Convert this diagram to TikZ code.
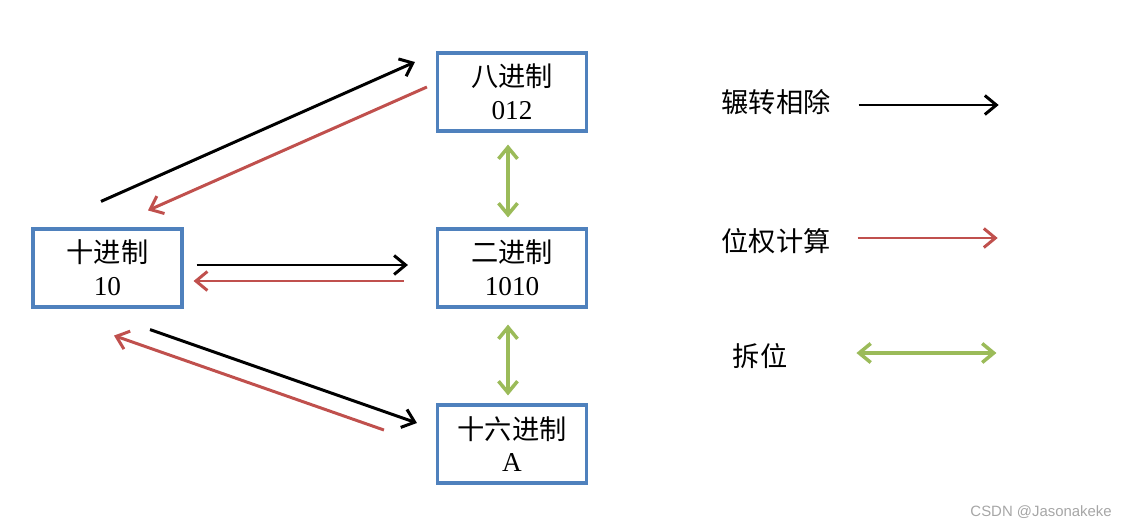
\documentclass[tikz,border=0pt]{standalone}
\usepackage{fontspec}
\usepackage{xcolor}
\usetikzlibrary{arrows.meta}
\setmainfont{Liberation Serif}
\newfontfamily\cjk{Noto Sans CJK SC}
\newfontfamily\wmfont{Liberation Sans}
\definecolor{boxblue}{HTML}{4F81BD}
\definecolor{arrred}{HTML}{C0504D}
\definecolor{arrgreen}{HTML}{9BBB59}

\begin{document}
\begin{tikzpicture}%
  [x=0.02cm,y=-0.02cm,
   tip/.style={-{Straight Barb[length=2.3mm,width=3.8mm]}}]
  \tikzstyle{base box}=[rectangle,draw=boxblue,line width=1.8pt,
    minimum width=2.98cm,minimum height=1.56cm,inner sep=0,align=center,
    font=\fontsize{15.5}{18.7}\selectfont]
  \tikzstyle{black arrow}=[tip,line width=1.7pt,draw=black]
  \tikzstyle{red arrow}=[tip,line width=1.7pt,draw=arrred]
  \tikzstyle{green arrow}=[{Straight Barb[length=2.3mm,width=3.8mm]}-{Straight Barb[length=2.3mm,width=3.8mm]},
    line width=2pt,draw=arrgreen]
  \tikzstyle{legend}=[font=\fontsize{15.5}{18}\selectfont\cjk]
  \useasboundingbox (0,0) rectangle (1133,528);
  \node(eight)[base box] at (512,92) {{\cjk 八进制}\\012};
  \node(ten)[base box] at (107.5,268) {{\cjk 十进制}\\10};
  \node(two)[base box] at (512,268) {{\cjk 二进制}\\1010};
  \node(sixteen)[base box] at (512,444) {{\cjk 十六进制}\\A};
  % 10 <-> 8
  \draw[black arrow] ([shift={(-6.5,-26)}]ten.north) -- ([shift={(-21,-30)}]eight.west);
  \draw[red arrow] ([shift={(-9,-5)}]eight.west) -- ([shift={(40.5,-17)}]ten.north);
  % 10 <-> 2
  \draw[black arrow] ([shift={(13,-3)}]ten.east) -- ([shift={(-28,-3)}]two.west);
  \draw[red arrow] ([shift={(-32,13)}]two.west) -- ([shift={(10,13)}]ten.east);
  % 10 <-> 16
  \draw[black arrow] ([shift={(42.5,21)}]ten.south) -- ([shift={(-19,-21)}]sixteen.west);
  \draw[red arrow] ([shift={(-52,-14)}]sixteen.west) -- ([shift={(6.5,27)}]ten.south);
  % 8, 2, 16
  \draw[green arrow] ([shift={(-4,12)}]eight.south) -- ([shift={(-4,-10)}]two.north);
  \draw[green arrow] ([shift={(-4,16)}]two.south) -- ([shift={(-4,-8)}]sixteen.north);
  % legend
  \node(l1)[legend] at (776,102) {辗转相除};
  \node(l2)[legend] at (776,241) {位权计算};
  \node(l3)[legend] at (760,356) {拆位};
  \draw[black arrow] ([shift={(22,3)}]l1.east) -- ++(140,0);
  \draw[red arrow] ([shift={(21,-3)}]l2.east) -- ++(140,0);
  \draw[green arrow] ([shift={(63,-3)}]l3.east) -- ++(140,0);
  \node(mark)[text=gray!70,font=\wmfont\fontsize{8.5}{10}\selectfont,anchor=east]
    at (1118,512) {CSDN @Jasonakeke};
\end{tikzpicture}
\end{document}
